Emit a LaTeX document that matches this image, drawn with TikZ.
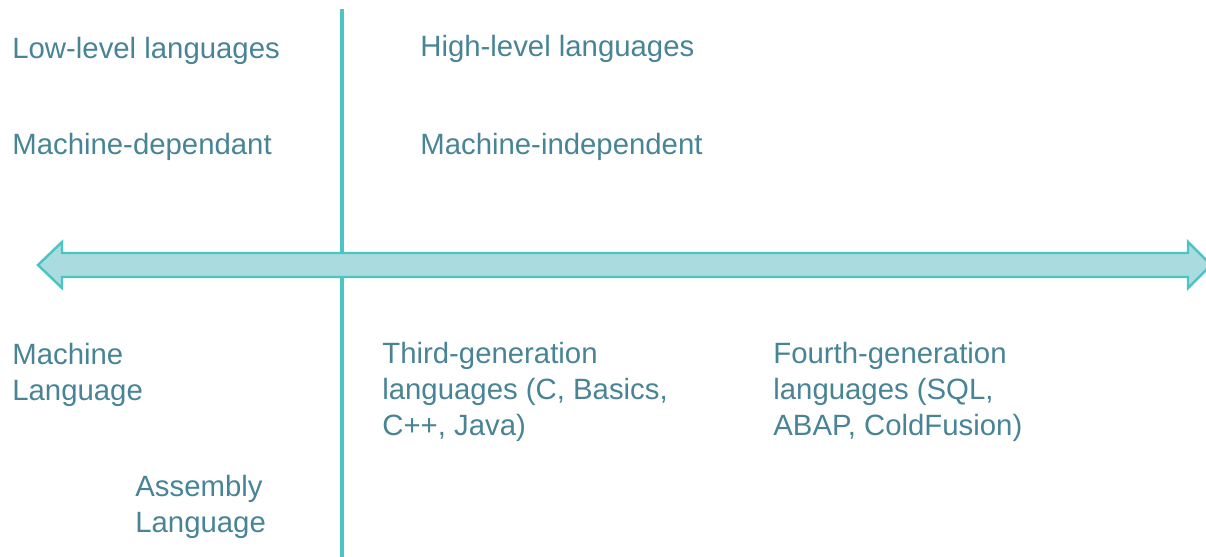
\documentclass[tikz,border=0pt]{standalone}
\usepackage{fontspec}
\setmainfont{Liberation Sans}
\usepackage{tikz}
\usetikzlibrary{positioning}
\definecolor{linecol}{RGB}{76,196,196}
\definecolor{shaftcol}{RGB}{170,220,223}
\definecolor{textcol}{RGB}{72,132,150}
\begin{document}
\begin{tikzpicture}[
  x=0.02cm,y=-0.02cm,
  lbl/.style={anchor=base west,inner sep=0pt,text=textcol,
              font=\fontsize{16.7}{20.4}\selectfont},
  lblm/.style={lbl,align=left},
  divider/.style={linecol,line width=2.2pt},
  axisarrow/.style={draw=linecol,fill=shaftcol,line width=1.4pt,line join=miter}
]
\useasboundingbox (0,0) rectangle (1206,557);
\def\xl{12}\def\xr{420}\def\xt{382}\def\xf{773}
% divider
\coordinate (dtop) at (342,9);
\coordinate (dbot) at (342,557);
\draw[divider] (dtop) -- (dbot);
% double-headed axis, on top of the divider
\draw[axisarrow] (38,265) -- (62,242) -- (62,253) -- (1188,253) -- (1188,242)
  -- (1211,265) -- (1188,288) -- (1188,277) -- (62,277) -- (62,288) -- cycle;
% upper labels
\node[lbl] (low)  at (\xl, 59)  {Low-level languages};
\node[lbl] (mdep) at (\xl, 155) {Machine-dependant};
\node[lbl] (high) at (\xr, 57)  {High-level languages};
\node[lbl] (mind) at (\xr, 155) {Machine-independent};
% lower labels (base = last line)
\node[lblm] (mach) at (\xl, 400) {Machine\\Language};
\node[lblm] (asm)  at (135, 532) {Assembly\\Language};
\node[lblm] (third) at (\xt, 435) {Third-generation\\languages (C, Basics,\\C++, Java)};
\node[lblm] (fourth) at (\xf, 435) {Fourth-generation\\languages (SQL,\\ABAP, ColdFusion)};
\end{tikzpicture}
\end{document}
